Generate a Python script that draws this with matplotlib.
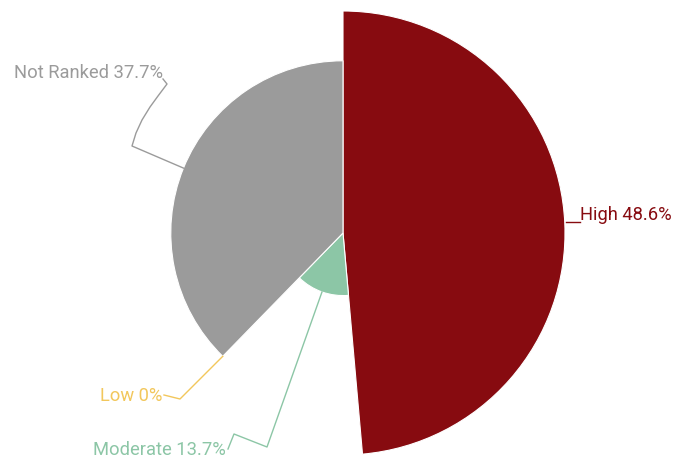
import matplotlib.pyplot as plt
import numpy as np
from matplotlib.patches import Wedge

plt.rcParams['font.family'] = ['Roboto', 'DejaVu Sans']

# data
labels = ["High", "Moderate", "Low", "Not Ranked"]
values = [48.6, 13.7, 0.0, 37.7]
colors = ["#870b10", "#8cc6a6", "#f2c75c", "#9b9b9b"]

# layout in pixel coordinates
W, H = 675, 462
cx, cy = 343, 233
scale = 222 / max(values)

fig = plt.figure(figsize=(W / 100, H / 100), dpi=100)
ax = fig.add_axes([0, 0, 1, 1])
ax.set_xlim(0, W)
ax.set_ylim(H, 0)
ax.axis("off")

total = sum(values)
start = 0.0
mids = []
for lab, v, c in zip(labels, values, colors):
    span = v / total * 360
    r = v * scale
    if span > 0:
        ax.add_patch(Wedge((cx, cy), r, start - 90, start + span - 90,
                           facecolor=c, edgecolor="white", linewidth=0.8))
    mids.append(start + span / 2)
    start += span

def edge_point(angle, r):
    a = np.radians(angle)
    return cx + r * np.sin(a), cy - r * np.cos(a)

# leader lines (points after the edge point) and label anchors
legs = {
    "High": ([(580, 222)], (580, 215), "left"),
    "Moderate": ([(267, 447), (234, 434), (228, 449)], (226, 450), "right"),
    "Low": ([(180, 399), (164, 395)], (162, 396), "right"),
    "Not Ranked": ([(132, 146), (136, 133), (142, 120), (150, 107),
                    (158, 96), (167, 84), (163, 79)], (163, 73), "right"),
}
edge_r = {"High": 222, "Moderate": 13.7 * scale, "Low": 37.7 * scale, "Not Ranked": 37.7 * scale}

for lab, v, c, m in zip(labels, values, colors, mids):
    pts, (tx, ty), ha = legs[lab]
    x0, y0 = edge_point(m, edge_r[lab])
    if lab == "High":
        x0, y0 = 566, 222
    xs = [x0] + [p[0] for p in pts]
    ys = [y0] + [p[1] for p in pts]
    ax.plot(xs, ys, color=c, linewidth=1)
    txt = f"{lab} {v:g}%"
    ax.text(tx, ty, txt, color=c, fontsize=13.2, ha=ha, va="center")

fig.savefig("out.png", dpi=100)
